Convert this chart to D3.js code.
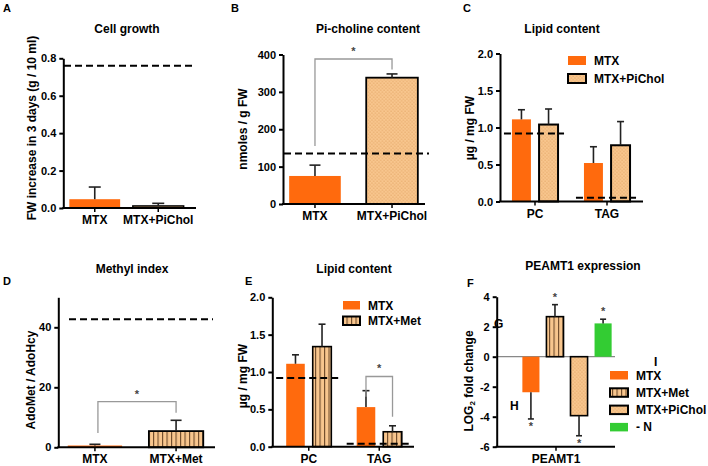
<!DOCTYPE html>
<html><head><meta charset="utf-8">
<script src="https://cdn.jsdelivr.net/npm/d3@7"></script>
<style>
body{margin:0;background:#fff;}
text{font-family:Arial,"Liberation Sans",sans-serif;font-weight:bold;fill:#000;}
</style></head><body>
<svg id="c" width="708" height="466"></svg>
<script>
// ---------- DATA ----------
// A: Cell growth
const aCategories = ["MTX", "MTX+PiChol"];
const aValues = [0.047, 0.011];
const aErrTop = [0.112, 0.025];
const aControl = 0.76;
const aTicks = [0, 0.2, 0.4, 0.6, 0.8];
// B: Pi-choline content
const bCategories = ["MTX", "MTX+PiChol"];
const bValues = [75, 338];
const bErrTop = [104, 348];
const bControl = 135;
const bTicks = [0, 100, 200, 300, 400];
const bBracket = [155, 388, 360]; // left end, top, right end (data units)
// C: Lipid content (PiChol)
const cGroups = ["PC", "TAG"];
const cSeries = ["MTX", "MTX+PiChol"];
const cMTX = [1.11, 0.52];
const cMTXErr = [1.24, 0.74];
const cPiChol = [1.04, 0.76];
const cPiCholErr = [1.25, 1.08];
const cControl = [0.92, 0.05];
const cTicks = [0, 0.5, 1.0, 1.5, 2.0];
// D: Methyl index
const dCategories = ["MTX", "MTX+Met"];
const dValues = [0.6, 5.4];
const dErrTop = [1.0, 9.0];
const dControl = 42.7;
const dTicks = [0, 20, 40];
const dBracket = [4.8, 15.2, 11.5];
// E: Lipid content (Met)
const eGroups = ["PC", "TAG"];
const eSeries = ["MTX", "MTX+Met"];
const eMTX = [1.11, 0.53];
const eMTXErr = [1.23, 0.75];
const eMet = [1.34, 0.20];
const eMetErr = [1.64, 0.28];
const eControl = [0.92, 0.04];
const eTicks = [0, 0.5, 1.0, 1.5, 2.0];
const eBracket = [0.67, 0.94, 0.40];
// F: PEAMT1 expression
const fCategory = ["PEAMT1"];
const fSeries = ["MTX", "MTX+Met", "MTX+PiChol", "- N"];
const fValues = [-2.37, 2.67, -3.93, 2.22];
const fErrEnd = [-4.15, 3.47, -5.27, 2.50];
const fTicks = [-6, -4, -2, 0, 2, 4];

// ---------- STYLE ----------
const svg = d3.select("#c");
const defs = svg.append("defs");
const ORANGE = "#FF6A0D", PEACH = "#F8C68E", GREEN = "#33CC33";
const pd = defs.append("pattern").attr("id", "dots").attr("patternUnits", "userSpaceOnUse").attr("width", 3.5).attr("height", 3.5);
pd.append("rect").attr("width", 3.5).attr("height", 3.5).attr("fill", PEACH);
pd.append("circle").attr("cx", 0.9).attr("cy", 0.9).attr("r", 0.55).attr("fill", "#D99450");
pd.append("circle").attr("cx", 2.65).attr("cy", 2.65).attr("r", 0.55).attr("fill", "#D99450");
const ps = defs.append("pattern").attr("id", "stripes").attr("patternUnits", "userSpaceOnUse").attr("width", 4.5).attr("height", 10);
ps.append("rect").attr("width", 4.5).attr("height", 10).attr("fill", PEACH);
ps.append("rect").attr("x", 0).attr("width", 1.1).attr("height", 10).attr("fill", "#6E4A2A");

const styles = {
  "MTX": {fill: ORANGE, stroke: "none"},
  "MTX+PiChol": {fill: "url(#dots)", stroke: "#000"},
  "MTX+Met": {fill: "url(#stripes)", stroke: "#000"},
  "- N": {fill: GREEN, stroke: "none"}
};

// ---------- HELPERS ----------
function yAxis(y, x, ticks, fmt) {
  const g = svg.append("g").attr("transform", `translate(${x},0)`)
    .call(d3.axisLeft(y).tickValues(ticks).tickFormat(fmt).tickSize(4).tickSizeOuter(0).tickPadding(3));
  g.selectAll("path,line").attr("stroke", "#000").attr("stroke-width", 2);
  g.selectAll("text").attr("font-size", 11).attr("fill", "#000").style("font-family", "Arial,'Liberation Sans',sans-serif");
  return g;
}
function xAxis(x, yPix, x0, x1) {
  svg.append("line").attr("x1", x0 - 1).attr("x2", x1).attr("y1", yPix).attr("y2", yPix)
    .attr("stroke", "#000").attr("stroke-width", 2);
  x.domain().forEach(d => {
    const cx = x(d) + x.bandwidth() / 2;
    svg.append("line").attr("x1", cx).attr("x2", cx).attr("y1", yPix).attr("y2", yPix + 4)
      .attr("stroke", "#000").attr("stroke-width", 1.5);
    svg.append("text").attr("x", cx).attr("y", yPix + 16).attr("text-anchor", "middle")
      .attr("font-size", 12).text(d);
  });
}
function bar(xl, w, y, v, series, sw) {
  const st = styles[series];
  const y0 = y(0), yv = y(v);
  svg.append("rect").attr("x", xl).attr("width", w)
    .attr("y", Math.min(y0, yv)).attr("height", Math.max(Math.abs(yv - y0), 0.5))
    .attr("fill", st.fill).attr("stroke", st.stroke).attr("stroke-width", sw || 1.8);
}
function err(cx, y, v, e, cap) {
  svg.append("line").attr("x1", cx).attr("x2", cx).attr("y1", y(v)).attr("y2", y(e))
    .attr("stroke", "#222").attr("stroke-width", 1.6);
  svg.append("line").attr("x1", cx - cap / 2).attr("x2", cx + cap / 2).attr("y1", y(e)).attr("y2", y(e))
    .attr("stroke", "#222").attr("stroke-width", 1.6);
}
function dashed(x0, x1, yPix) {
  svg.append("line").attr("x1", x0).attr("x2", x1).attr("y1", yPix).attr("y2", yPix)
    .attr("stroke", "#000").attr("stroke-width", 2).attr("stroke-dasharray", "7,4");
}
function bracket(xl, xr, y, vals) {
  svg.append("path").attr("d", `M${xl},${y(vals[0])}V${y(vals[1])}H${xr}V${y(vals[2])}`)
    .attr("fill", "none").attr("stroke", "#999").attr("stroke-width", 1.3);
  svg.append("text").attr("x", (xl + xr) / 2).attr("y", y(vals[1]) - 4).attr("text-anchor", "middle")
    .attr("font-size", 11).attr("font-weight", "normal").style("fill", "#444").text("*");
}
function title(x, y, t) {
  svg.append("text").attr("x", x).attr("y", y).attr("text-anchor", "middle").attr("font-size", 12).text(t);
}
function letter(x, y, t) {
  svg.append("text").attr("x", x).attr("y", y).attr("font-size", 11).text(t);
}
function yLabel(x, y, t) {
  return svg.append("text").attr("transform", `translate(${x},${y}) rotate(-90)`)
    .attr("text-anchor", "middle").attr("dominant-baseline", "central").attr("font-size", 12).text(t);
}
function legend(items, x, y0, dy, w, h) {
  items.forEach((s, i) => {
    const st = styles[s];
    svg.append("rect").attr("x", x).attr("y", y0 + i * dy).attr("width", w).attr("height", h)
      .attr("fill", st.fill).attr("stroke", st.stroke).attr("stroke-width", 2);
    svg.append("text").attr("x", x + w + 8).attr("y", y0 + i * dy + h).attr("font-size", 12).text(s);
  });
}
const f1 = d3.format(".1f");

// ---------- PANEL A ----------
{
  const y = d3.scaleLinear().domain([0, 0.8]).range([208, 58.3]);
  const x = d3.scaleBand().domain(aCategories).range([63, 190]).paddingInner(0.2).paddingOuter(0.1);
  aCategories.forEach((c, i) => bar(x(c), x.bandwidth(), y, aValues[i], c, 1.5));
  aCategories.forEach((c, i) => err(x(c) + x.bandwidth() / 2, y, aValues[i], aErrTop[i], 12));
  yAxis(y, 63.3, aTicks, f1);
  xAxis(x, 208, 63.3, 196);
  dashed(64, 193, y(aControl));
  title(127, 33, "Cell growth");
  letter(3, 12, "A");
  yLabel(32, 128, "FW increase in 3 days (g / 10 ml)");
}
// ---------- PANEL B ----------
{
  const y = d3.scaleLinear().domain([0, 400]).range([204, 54.5]);
  const x = d3.scaleBand().domain(bCategories).range([283, 424]).paddingInner(0.33).paddingOuter(0.08);
  bCategories.forEach((c, i) => bar(x(c), x.bandwidth(), y, bValues[i], c, 1.8));
  bCategories.forEach((c, i) => err(x(c) + x.bandwidth() / 2, y, bValues[i], bErrTop[i], 11));
  yAxis(y, 283, bTicks, d3.format("d"));
  xAxis(x, 204, 283, 425);
  dashed(284, 429, y(bControl));
  bracket(x("MTX") + x.bandwidth() / 2, x("MTX+PiChol") + x.bandwidth() / 2, y, bBracket);
  title(368, 33, "Pi-choline content");
  letter(231, 12, "B");
  yLabel(243, 129, "nmoles / g FW");
}
// ---------- PANEL C ----------
{
  const y = d3.scaleLinear().domain([0, 2]).range([201.5, 53.5]);
  const x0 = d3.scaleBand().domain(cGroups).range([499, 643]).paddingInner(0.36).paddingOuter(0.18);
  const x1 = d3.scaleBand().domain(cSeries).range([0, x0.bandwidth()]).paddingInner(0.3);
  const vals = {"MTX": cMTX, "MTX+PiChol": cPiChol};
  const errs = {"MTX": cMTXErr, "MTX+PiChol": cPiCholErr};
  cGroups.forEach((g, gi) => cSeries.forEach(s => {
    bar(x0(g) + x1(s), x1.bandwidth(), y, vals[s][gi], s, 2);
    err(x0(g) + x1(s) + x1.bandwidth() / 2, y, vals[s][gi], errs[s][gi], 7);
  }));
  yAxis(y, 500, cTicks, f1);
  xAxis(x0, 201.5, 500, 643);
  cGroups.forEach((g, gi) => dashed(x0(g) - 8, x0(g) + x0.bandwidth() + 6, y(cControl[gi])));
  legend(cSeries, 568, 56, 18, 18, 9);
  title(562, 33, "Lipid content");
  letter(463, 12, "C");
  yLabel(470, 128, "µg / mg FW");
}
// ---------- PANEL D ----------
{
  const y = d3.scaleLinear().domain([0, 50]).range([447.3, 297.3]);
  const x = d3.scaleBand().domain(dCategories).range([58, 213]).paddingInner(0.33).paddingOuter(0.12);
  dCategories.forEach((c, i) => bar(x(c), x.bandwidth(), y, dValues[i], c, 1.8));
  dCategories.forEach((c, i) => err(x(c) + x.bandwidth() / 2, y, dValues[i], dErrTop[i], 11));
  yAxis(y, 58.3, dTicks, d3.format("d"));
  xAxis(x, 447.3, 58.3, 215);
  dashed(69, 213, y(dControl));
  bracket(x("MTX") + x.bandwidth() / 2 + 3, x("MTX+Met") + x.bandwidth() / 2, y, dBracket);
  title(132, 273, "Methyl index");
  letter(3, 285, "D");
  yLabel(31, 380, "AdoMet / AdoHcy");
}
// ---------- PANEL E ----------
{
  const y = d3.scaleLinear().domain([0, 2]).range([446.7, 297.3]);
  const x0 = d3.scaleBand().domain(eGroups).range([273.5, 414.5]).paddingInner(0.36).paddingOuter(0.18);
  const x1 = d3.scaleBand().domain(eSeries).range([0, x0.bandwidth()]).paddingInner(0.3);
  const vals = {"MTX": eMTX, "MTX+Met": eMet};
  const errs = {"MTX": eMTXErr, "MTX+Met": eMetErr};
  eGroups.forEach((g, gi) => eSeries.forEach(s => {
    bar(x0(g) + x1(s), x1.bandwidth(), y, vals[s][gi], s, 1.6);
    err(x0(g) + x1(s) + x1.bandwidth() / 2, y, vals[s][gi], errs[s][gi], 7);
  }));
  yAxis(y, 272.3, eTicks, f1);
  xAxis(x0, 446.7, 272.3, 414);
  eGroups.forEach((g, gi) => dashed(x0(g) - 10, x0(g) + x0.bandwidth() + 8, y(eControl[gi])));
  bracket(x0("TAG") + x1("MTX") + x1.bandwidth() / 2, x0("TAG") + x1("MTX+Met") + x1.bandwidth() / 2, y, eBracket);
  legend(eSeries, 343, 301, 15.5, 17, 8.5);
  title(354, 273, "Lipid content");
  letter(245, 285, "E");
  yLabel(243, 376, "µg / mg FW");
}
// ---------- PANEL F ----------
{
  const y = d3.scaleLinear().domain([-6, 4]).range([446.7, 296.7]);
  const x = d3.scaleBand().domain(fSeries).range([519, 615]).paddingInner(0.29).paddingOuter(0.14);
  const xc = d3.scaleBand().domain(fCategory).range([497, 615]);
  svg.append("line").attr("x1", 497).attr("x2", 615).attr("y1", y(0)).attr("y2", y(0))
    .attr("stroke", "#888").attr("stroke-width", 1.3);
  fSeries.forEach((s, i) => {
    bar(x(s), x.bandwidth(), y, fValues[i], s, 1.6);
    const cx = x(s) + x.bandwidth() / 2;
    err(cx, y, fValues[i], fErrEnd[i], 6);
    const up = fValues[i] > 0;
    svg.append("text").attr("x", cx).attr("y", up ? y(fErrEnd[i]) - 4 : y(fErrEnd[i]) + 11)
      .attr("text-anchor", "middle").attr("font-size", 11).attr("font-weight", "normal")
      .style("fill", "#444").text("*");
  });
  yAxis(y, 496.7, fTicks, d => String(d));
  xAxis(xc, 446.7, 496.7, 615);
  legend(fSeries, 610, 371, 17.3, 18, 8.5);
  title(583, 270, "PEAMT1 expression");
  letter(467, 287, "F");
  const t = yLabel(469, 381, "");
  t.append("tspan").text("LOG");
  t.append("tspan").attr("font-size", 8).attr("dy", 3).text("2");
  t.append("tspan").attr("dy", -3).text(" fold change");
  svg.append("text").attr("x", 494).attr("y", 328).attr("font-size", 12).text("G");
  svg.append("text").attr("x", 510).attr("y", 410).attr("font-size", 12).text("H");
  svg.append("text").attr("x", 654).attr("y", 366).attr("font-size", 12).text("I");
}
</script>
</body></html>
